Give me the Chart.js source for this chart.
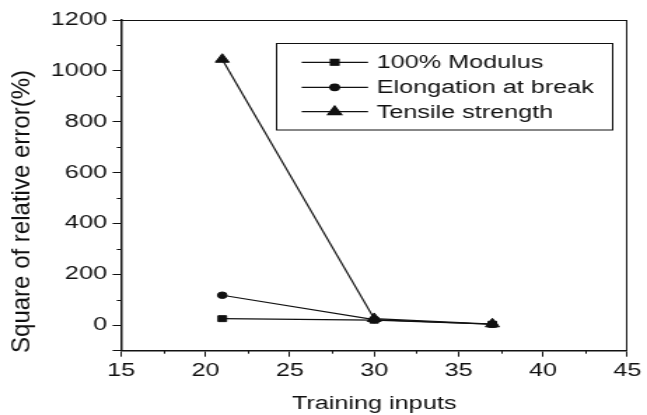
<!DOCTYPE html>
<html>
<head>
<meta charset="utf-8">
<script src="https://cdn.jsdelivr.net/npm/chart.js@4.4.1/dist/chart.umd.min.js"></script>
<style>
  html, body { margin: 0; padding: 0; background: #fff; overflow: hidden; }
  #wrap { width: 462px; height: 415px; transform: scaleX(1.4004); transform-origin: 0 0; }
</style>
</head>
<body>
<div id="wrap"><canvas id="c" width="462" height="415"></canvas></div>
<script>
const trainingInputs = [21, 30, 37];
const modulusErr = [26, 20, 4];
const elongationErr = [118, 22, 4];
const tensileErr = [1045, 26, 5];
const seriesLabels = ['100% Modulus', 'Elongation at break', 'Tensile strength'];
const xTitle = 'Training inputs';
const yTitle = 'Square of relative error(%)';

const INK = '#111111';
const FONT = "'Liberation Sans', Arial, sans-serif";

function pts(xs, ys) { return xs.map((x, i) => ({ x: x, y: ys[i] })); }

const minorTicks = {
  id: 'minorTicks',
  afterDraw(chart) {
    const ctx = chart.ctx, x = chart.scales.x, y = chart.scales.y, a = chart.chartArea;
    ctx.save();
    ctx.strokeStyle = INK; ctx.lineWidth = 1;
    // frame top and right
    ctx.beginPath();
    ctx.moveTo(a.left, a.top + 0.5); ctx.lineTo(a.right, a.top + 0.5);
    ctx.moveTo(a.right - 0.5, a.top); ctx.lineTo(a.right - 0.5, a.bottom);
    ctx.stroke();
    ctx.beginPath();
    for (let v = 100; v < 1200; v += 200) {
      const py = Math.round(y.getPixelForValue(v)) + 0.5;
      ctx.moveTo(a.left - 3, py); ctx.lineTo(a.left, py);
    }
    for (let v = 17.5; v < 45; v += 5) {
      const px = Math.round(x.getPixelForValue(v)) + 0.5;
      ctx.moveTo(px, a.bottom); ctx.lineTo(px, a.bottom + 3);
    }
    ctx.stroke();
    // y axis title
    ctx.fillStyle = INK;
    ctx.font = '18px ' + FONT;
    ctx.textAlign = 'center'; ctx.textBaseline = 'middle';
    const w = ctx.measureText(yTitle).width;
    ctx.translate(15.7, 211.5);
    ctx.rotate(-Math.PI / 2);
    ctx.scale(283 / w, 1);
    ctx.fillText(yTitle, 0, 0);
    ctx.restore();

    // legend
    ctx.save();
    ctx.strokeStyle = INK; ctx.lineWidth = 1;
    ctx.strokeRect(197.5, 43.5, 240, 86.5);
    const rows = [62.3, 87.3, 111.7];
    chart.data.datasets.forEach((ds, i) => {
      const cy = rows[i];
      ctx.strokeStyle = INK; ctx.lineWidth = 1.2;
      ctx.beginPath(); ctx.moveTo(215.4, cy); ctx.lineTo(262.8, cy); ctx.stroke();
      Chart.helpers.drawPoint(ctx, { pointStyle: ds.pointStyle, radius: ds.pointRadius, rotation: 0, borderWidth: 1 }, 239, cy);
      ctx.fillStyle = INK; ctx.fill();
      ctx.fillStyle = INK;
      ctx.font = '18px ' + FONT;
      ctx.textAlign = 'left'; ctx.textBaseline = 'middle';
      ctx.fillText(ds.label, 269, cy + 1);
    });
    ctx.restore();
  }
};

const base = { borderColor: INK, backgroundColor: INK, pointBackgroundColor: INK, pointBorderColor: INK, borderWidth: 1.2, pointBorderWidth: 1, showLine: true, tension: 0 };

new Chart(document.getElementById('c'), {
  type: 'scatter',
  data: {
    datasets: [
      Object.assign({}, base, { label: seriesLabels[0], data: pts(trainingInputs, modulusErr), pointStyle: 'rect', pointRadius: 4.2, order: 2 }),
      Object.assign({}, base, { label: seriesLabels[1], data: pts(trainingInputs, elongationErr), pointStyle: 'circle', pointRadius: 3.3, order: 1 }),
      Object.assign({}, base, { label: seriesLabels[2], data: pts(trainingInputs, tensileErr), pointStyle: 'triangle', pointRadius: 5.7, order: 0 })
    ]
  },
  options: {
    responsive: false,
    animation: false,
    devicePixelRatio: 1,
    layout: { padding: { left: 0, top: 20, right: 11.4, bottom: 0 } },
    plugins: { legend: { display: false }, tooltip: { enabled: false } },
    scales: {
      x: {
        type: 'linear', min: 15, max: 45,
        ticks: { stepSize: 5, color: INK, font: { family: FONT, size: 18 }, padding: 4, maxRotation: 0 },
        grid: { display: true, drawOnChartArea: false, drawTicks: true, tickLength: 6, color: INK, lineWidth: 1 },
        border: { display: true, color: INK, width: 1.5 },
        title: { display: true, text: xTitle, color: INK, font: { family: FONT, size: 18 }, padding: { top: 4, bottom: 0 } },
        afterFit(s) { s.height = 64.3; }
      },
      y: {
        type: 'linear', min: -100, max: 1200,
        ticks: { stepSize: 200, color: INK, font: { family: FONT, size: 18 }, padding: 4,
          callback: (v) => (v < 0 ? '' : String(v)) },
        grid: { display: true, drawOnChartArea: false, drawTicks: true, tickLength: 6, color: INK, lineWidth: 1 },
        border: { display: true, color: INK, width: 1.5 },
        title: { display: false },
        afterFit(s) { s.width = 86.4; }
      }
    }
  },
  plugins: [minorTicks]
});
</script>
</body>
</html>
